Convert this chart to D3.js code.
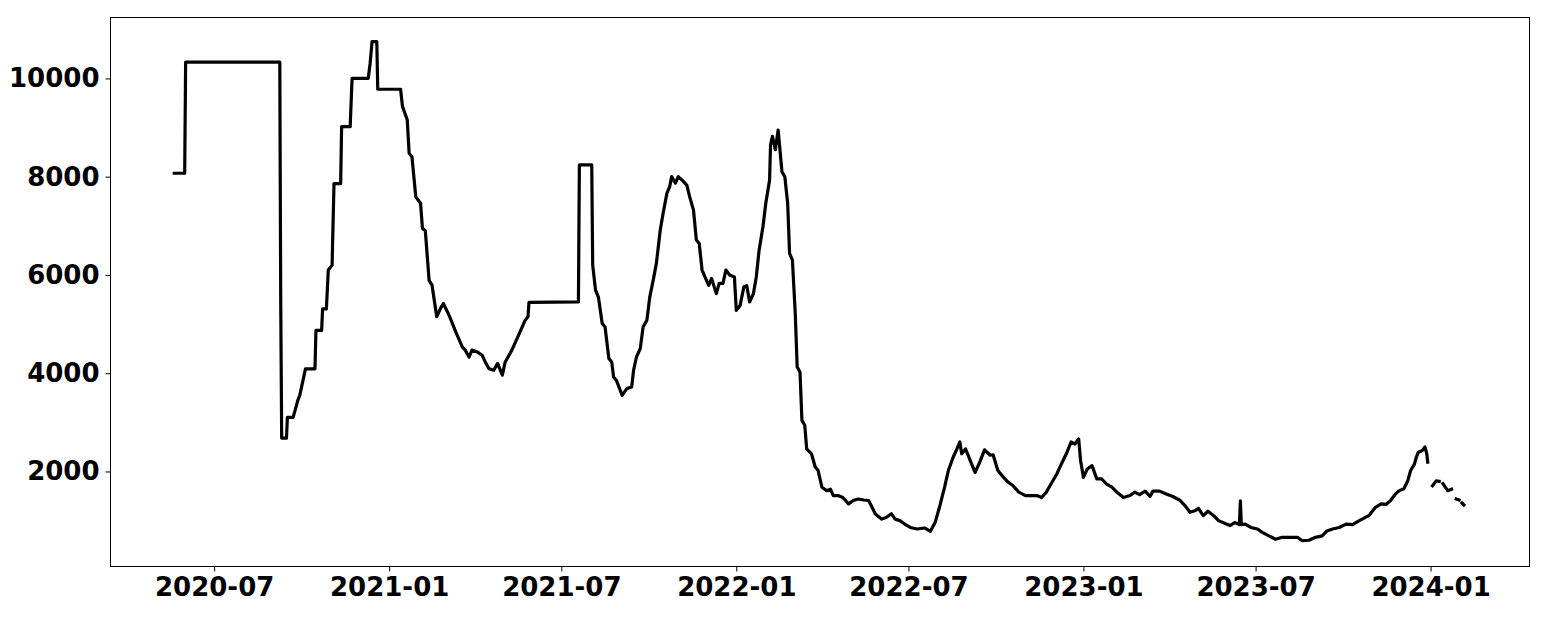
<!DOCTYPE html>
<html>
<head>
<meta charset="utf-8">
<script src="https://cdn.jsdelivr.net/npm/d3@7"></script>
<style>
  html, body { margin: 0; padding: 0; background: #fff; }
  svg { display: block; }
  .tick text { font-family: "DejaVu Sans", sans-serif; font-weight: bold; font-size: 26px; fill: #000; }
</style>
</head>
<body>
<div id="chart"></div>
<script>
// ---- data ----
const dates = [
  "2020-05-20","2020-05-31","2020-06-01","2020-09-08","2020-09-09","2020-09-10","2020-09-15","2020-09-16","2020-09-22","2020-09-24",
  "2020-09-27","2020-09-29","2020-10-02","2020-10-05","2020-10-15","2020-10-16","2020-10-22","2020-10-23","2020-10-27","2020-10-29",
  "2020-11-02","2020-11-04","2020-11-11","2020-11-12","2020-11-21","2020-11-23","2020-12-10","2020-12-12","2020-12-14","2020-12-19",
  "2020-12-20","2021-01-13","2021-01-15","2021-01-20","2021-01-22","2021-01-25","2021-01-29","2021-02-03","2021-02-05","2021-02-08",
  "2021-02-12","2021-02-15","2021-02-20","2021-02-24","2021-02-27","2021-03-05","2021-03-12","2021-03-19","2021-03-22","2021-03-26",
  "2021-03-29","2021-04-04","2021-04-09","2021-04-12","2021-04-16","2021-04-21","2021-04-25","2021-04-30","2021-05-03","2021-05-10",
  "2021-05-17","2021-05-24","2021-05-27","2021-05-28","2021-07-19","2021-07-20","2021-08-02","2021-08-03","2021-08-06","2021-08-09",
  "2021-08-13","2021-08-16","2021-08-20","2021-08-23","2021-08-25","2021-08-28","2021-08-30","2021-09-03","2021-09-08","2021-09-13",
  "2021-09-15","2021-09-18","2021-09-22","2021-09-25","2021-09-29","2021-10-02","2021-10-06","2021-10-09","2021-10-13","2021-10-16",
  "2021-10-20","2021-10-23","2021-10-25","2021-10-29","2021-11-01","2021-11-05","2021-11-10","2021-11-13","2021-11-17","2021-11-20",
  "2021-11-23","2021-11-26","2021-11-29","2021-12-03","2021-12-06","2021-12-11","2021-12-14","2021-12-18","2021-12-21","2021-12-25",
  "2021-12-30","2022-01-01","2022-01-05","2022-01-09","2022-01-12","2022-01-15","2022-01-19","2022-01-22","2022-01-25","2022-01-29",
  "2022-02-01","2022-02-05","2022-02-06","2022-02-08","2022-02-11","2022-02-14","2022-02-18","2022-02-21","2022-02-24","2022-02-26",
  "2022-03-01","2022-03-04","2022-03-06","2022-03-09","2022-03-11","2022-03-14","2022-03-16","2022-03-21","2022-03-25","2022-03-28",
  "2022-04-01","2022-04-06","2022-04-10","2022-04-13","2022-04-18","2022-04-23","2022-04-29","2022-05-04","2022-05-09","2022-05-15",
  "2022-05-20","2022-05-23","2022-05-27","2022-06-03","2022-06-08","2022-06-13","2022-06-17","2022-06-22","2022-06-27","2022-07-03",
  "2022-07-10","2022-07-18","2022-07-24","2022-07-29","2022-08-03","2022-08-08","2022-08-12","2022-08-17","2022-08-21","2022-08-24",
  "2022-08-26","2022-08-30","2022-09-04","2022-09-09","2022-09-14","2022-09-19","2022-09-25","2022-09-28","2022-10-03","2022-10-09",
  "2022-10-14","2022-10-19","2022-10-25","2022-11-01","2022-11-07","2022-11-13","2022-11-18","2022-11-23","2022-11-28","2022-12-04",
  "2022-12-09","2022-12-14","2022-12-19","2022-12-23","2022-12-27","2022-12-29","2023-01-01","2023-01-05","2023-01-10","2023-01-15",
  "2023-01-20","2023-01-25","2023-01-31","2023-02-05","2023-02-12","2023-02-19","2023-02-24","2023-03-01","2023-03-07","2023-03-12",
  "2023-03-15","2023-03-22","2023-03-29","2023-04-05","2023-04-12","2023-04-18","2023-04-23","2023-04-28","2023-05-02","2023-05-07",
  "2023-05-12","2023-05-18","2023-05-23","2023-05-30","2023-06-04","2023-06-09","2023-06-14","2023-06-15","2023-06-16","2023-06-20",
  "2023-06-26","2023-07-03","2023-07-08","2023-07-15","2023-07-22","2023-07-29","2023-08-07","2023-08-14","2023-08-19","2023-08-26",
  "2023-09-02","2023-09-09","2023-09-14","2023-09-20","2023-09-27","2023-10-04","2023-10-11","2023-10-18","2023-10-23","2023-10-28",
  "2023-11-04","2023-11-10","2023-11-15","2023-11-20","2023-11-25","2023-11-29","2023-12-04","2023-12-08","2023-12-11","2023-12-15",
  "2023-12-17","2023-12-19","2023-12-23","2023-12-26","2023-12-28","2023-12-29","2023-12-30","2024-01-03","2024-01-07","2024-01-10",
  "2024-01-12","2024-01-14","2024-01-19","2024-01-23","2024-01-25","2024-01-28","2024-01-31","2024-02-01","2024-02-03","2024-02-05"
];
const values = [
  8070, 8070, 10330, 10330, 5400, 2680, 2680, 3100, 3100, 3240,
  3450, 3550, 3820, 4090, 4090, 4870, 4870, 5310, 5310, 6100,
  6200, 7860, 7860, 9020, 9020, 10000, 10000, 10310, 10750, 10750,
  9780, 9780, 9430, 9160, 8480, 8400, 7590, 7460, 6950, 6900,
  5890, 5800, 5150, 5320, 5420, 5180, 4840, 4530, 4470, 4330,
  4470, 4430, 4360, 4230, 4090, 4060, 4200, 3960, 4230, 4470,
  4770, 5080, 5150, 5440, 5450, 8240, 8240, 6200, 5690, 5550,
  5010, 4940, 4300, 4230, 3920, 3850, 3750, 3550, 3690, 3720,
  4060, 4330, 4500, 4940, 5080, 5550, 5930, 6240, 6910, 7250,
  7660, 7800, 8000, 7870, 8000, 7930, 7830, 7590, 7320, 6710,
  6640, 6100, 5960, 5790, 5930, 5620, 5830, 5830, 6100, 6000,
  5960, 5280, 5380, 5760, 5780, 5450, 5620, 5960, 6510, 6980,
  7460, 7930, 8650, 8820, 8550, 8950, 8100, 8000, 7460, 6440,
  6300, 5210, 4130, 4020, 3040, 2940, 2460, 2360, 2090, 2020,
  1680, 1610, 1640, 1510, 1510, 1470, 1340, 1410, 1440, 1420,
  1410, 1300, 1140, 1030, 1070, 1140, 1030, 1000, 930, 860,
  830, 850, 780, 960, 1300, 1680, 2020, 2290, 2460, 2600,
  2360, 2460, 2220, 1980, 2190, 2440, 2330, 2340, 2020, 1880,
  1780, 1710, 1580, 1510, 1510, 1510, 1470, 1580, 1750, 1950,
  2160, 2360, 2600, 2560, 2660, 2220, 1880, 2050, 2120, 1850,
  1850, 1750, 1680, 1580, 1470, 1510, 1580, 1530, 1600, 1490,
  1600, 1600, 1540, 1490, 1420, 1300, 1170, 1200, 1250, 1100,
  1190, 1100, 1000, 940, 900, 960, 920, 1400, 920, 930,
  860, 830, 760, 690, 620, 660, 660, 660, 590, 600,
  660, 690, 790, 830, 860, 930, 920, 1000, 1050, 1100,
  1270, 1340, 1330, 1410, 1540, 1610, 1650, 1810, 2020, 2150,
  2290, 2390, 2420, 2500, 2360, 2190, null, 1710, 1810, 1800,
  null, 1750, 1610, 1640, null, 1440, 1420, null, 1360, 1320
];
const yTickValues = [2000, 4000, 6000, 8000, 10000];
const xDomainDates = ["2020-03-14", "2024-04-14"];
const yDomain = [66, 11240];

// ---- layout ----
const W = 1548, H = 625;
const plotLeft = 110.5, plotRight = 1529.5, plotTop = 17.5, plotBottom = 566.5;

const parse = d3.utcParse("%Y-%m-%d");
const data = dates.map((d, i) => ({ date: parse(d), value: values[i] }));

const x = d3.scaleUtc()
  .domain(xDomainDates.map(parse))
  .range([plotLeft, plotRight]);
const y = d3.scaleLinear()
  .domain(yDomain)
  .range([plotBottom, plotTop]);

const svg = d3.select("#chart").append("svg")
  .attr("width", W).attr("height", H);

// line
const line = d3.line()
  .defined(d => d.value !== null)
  .x(d => x(d.date))
  .y(d => y(d.value));

svg.append("path")
  .datum(data)
  .attr("fill", "none")
  .attr("stroke", "#000")
  .attr("stroke-width", 3.2)
  .attr("stroke-linejoin", "round")
  .attr("stroke-linecap", "square")
  .attr("d", line);

// axes
const xAxis = d3.axisBottom(x)
  .ticks(d3.utcMonth.every(6))
  .tickFormat(d3.utcFormat("%Y-%m"))
  .tickSize(5)
  .tickPadding(6);
const gx = svg.append("g")
  .attr("transform", `translate(0,${plotBottom})`)
  .call(xAxis);
gx.select(".domain").remove();
gx.selectAll(".tick line").attr("stroke", "#000").attr("stroke-width", 1);

const yAxis = d3.axisLeft(y)
  .tickValues(yTickValues)
  .tickFormat(d3.format("d"))
  .tickSize(5)
  .tickPadding(6);
const gy = svg.append("g")
  .attr("transform", `translate(${plotLeft},0)`)
  .call(yAxis);
gy.select(".domain").remove();
gy.selectAll(".tick line").attr("stroke", "#000").attr("stroke-width", 1);

// frame
svg.append("rect")
  .attr("x", plotLeft).attr("y", plotTop)
  .attr("width", plotRight - plotLeft).attr("height", plotBottom - plotTop)
  .attr("fill", "none")
  .attr("stroke", "#000")
  .attr("stroke-width", 1);
</script>
</body>
</html>
